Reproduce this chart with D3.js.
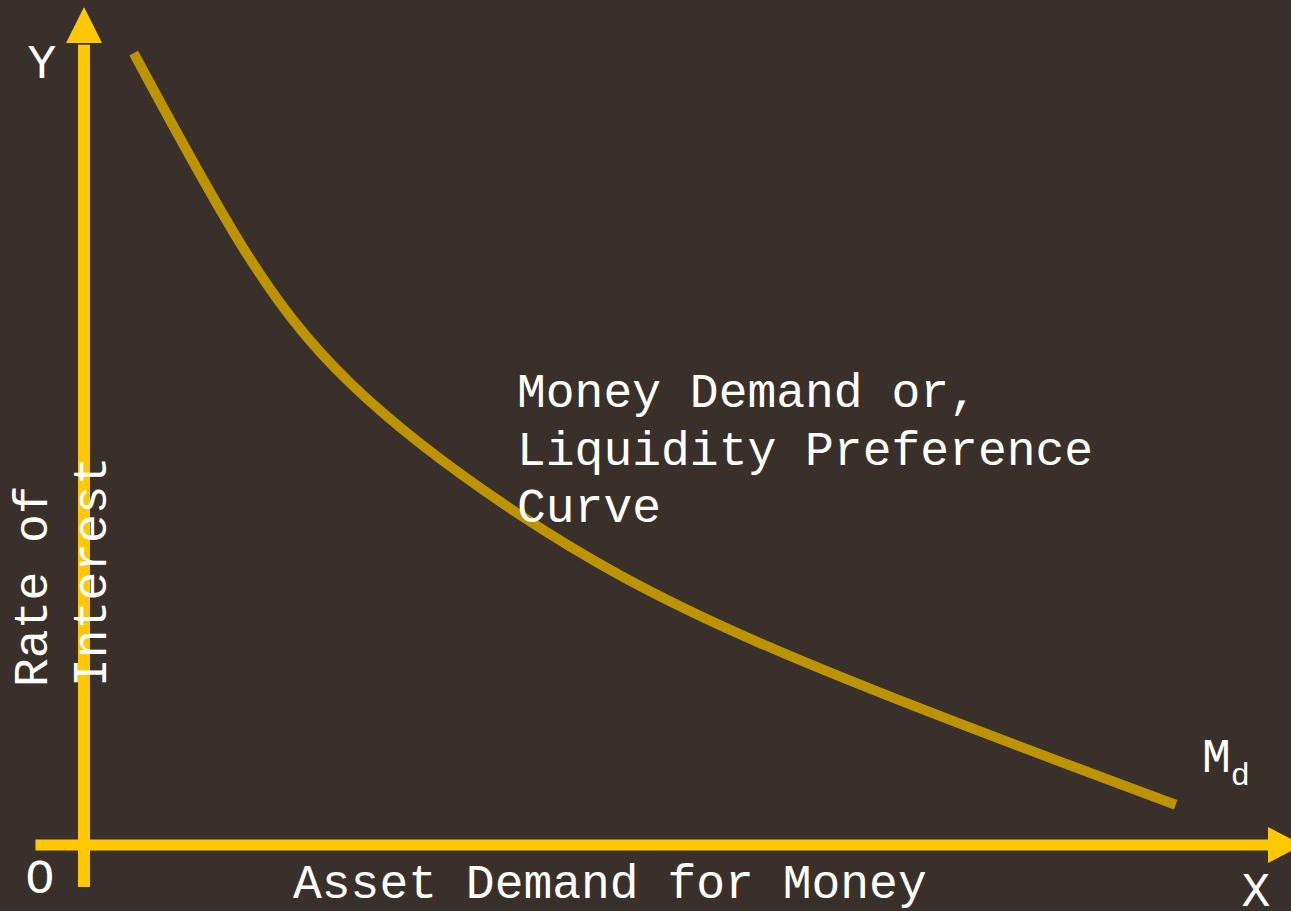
<!DOCTYPE html>
<html>
<head>
<meta charset="utf-8">
<script src="https://cdn.jsdelivr.net/npm/d3@7"></script>
<style>
  html, body { margin: 0; padding: 0; background: #3a302b; overflow: hidden; }
  text { font-family: "Liberation Mono", "Courier New", monospace; fill: #ffffff; }
</style>
</head>
<body>
<script>
// --------DATA--------------
// money demand curve, in chart units (x: money, y: rate of interest)
var curveX = [0.42, 1.32, 2.25, 3.66, 5.71, 9.22];
var curveY = [9.45, 7.18, 5.51, 3.96, 2.41, 0.48];

var axisNames = ["Y", "X", "O"];
var xTitle = "Asset Demand for Money";
var yTitle = ["Rate of", "Interest"];
var curveNote = ["Money Demand or,", "Liquidity Preference", "Curve"];
var curveName = ["M", "d"];

var width = 1291, height = 911;

var x = d3.scaleLinear().domain([0, 10]).range([84, 1268]);
var y = d3.scaleLinear().domain([0, 10]).range([845, 7]);

var svg = d3.select("body").append("svg")
  .attr("width", width)
  .attr("height", height);

svg.append("rect")
  .attr("width", width)
  .attr("height", height)
  .attr("fill", "#3a302b");

var axisColor = "#ffc800";

// ----------AXES (arrows)---------------
// vertical axis
svg.append("line")
  .attr("x1", x(0)).attr("x2", x(0))
  .attr("y1", y(-0.5)).attr("y2", y(9.55))
  .attr("stroke", axisColor)
  .attr("stroke-width", 12);

svg.append("path")
  .attr("d", "M" + (x(0) - 18) + "," + y(9.57) +
             "L" + x(0) + "," + y(10) +
             "L" + (x(0) + 18) + "," + y(9.57) + "Z")
  .attr("fill", axisColor);

// horizontal axis
svg.append("line")
  .attr("x1", x(-0.41)).attr("x2", x(10.01))
  .attr("y1", y(0)).attr("y2", y(0))
  .attr("stroke", axisColor)
  .attr("stroke-width", 11);

svg.append("path")
  .attr("d", "M" + x(10) + "," + (y(0) - 18) +
             "L" + x(10.29) + "," + y(0) +
             "L" + x(10) + "," + (y(0) + 18) + "Z")
  .attr("fill", axisColor);

// ----------CURVE---------------
var pts = curveX.map(function(d, i) { return [d, curveY[i]]; });

var line = d3.line()
  .x(function(d) { return x(d[0]); })
  .y(function(d) { return y(d[1]); })
  .curve(d3.curveNatural);

svg.append("path")
  .datum(pts)
  .attr("d", line)
  .attr("fill", "none")
  .attr("stroke", "#bc9300")
  .attr("stroke-width", 10)
  .attr("stroke-linecap", "butt");

// ----------LABELS---------------
var fs = 48;

svg.append("text")
  .attr("x", 42).attr("y", 78)
  .attr("text-anchor", "middle")
  .style("font-size", fs + "px")
  .text(axisNames[0]);

svg.append("text")
  .attr("x", 1256).attr("y", 906)
  .attr("text-anchor", "middle")
  .style("font-size", fs + "px")
  .text(axisNames[1]);

svg.append("text")
  .attr("x", 40).attr("y", 893)
  .attr("text-anchor", "middle")
  .style("font-size", fs + "px")
  .text(axisNames[2]);

svg.append("text")
  .attr("x", 293).attr("y", 898)
  .style("font-size", fs + "px")
  .text(xTitle);

svg.selectAll(".ytitle")
  .data(yTitle)
  .enter().append("text")
  .attr("class", "ytitle")
  .attr("transform", function(d, i) { return "translate(" + (47 + i * 59) + ",687) rotate(-90)"; })
  .style("font-size", fs + "px")
  .text(function(d) { return d; });

svg.selectAll(".note")
  .data(curveNote)
  .enter().append("text")
  .attr("class", "note")
  .attr("x", 517)
  .attr("y", function(d, i) { return 407 + i * 57.5; })
  .style("font-size", fs + "px")
  .text(function(d) { return d; });

var md = svg.append("text")
  .attr("x", 1202).attr("y", 772)
  .style("font-size", fs + "px");
md.append("tspan").text(curveName[0]);
md.append("tspan")
  .attr("dy", 13)
  .style("font-size", "32px")
  .text(curveName[1]);
</script>
</body>
</html>
